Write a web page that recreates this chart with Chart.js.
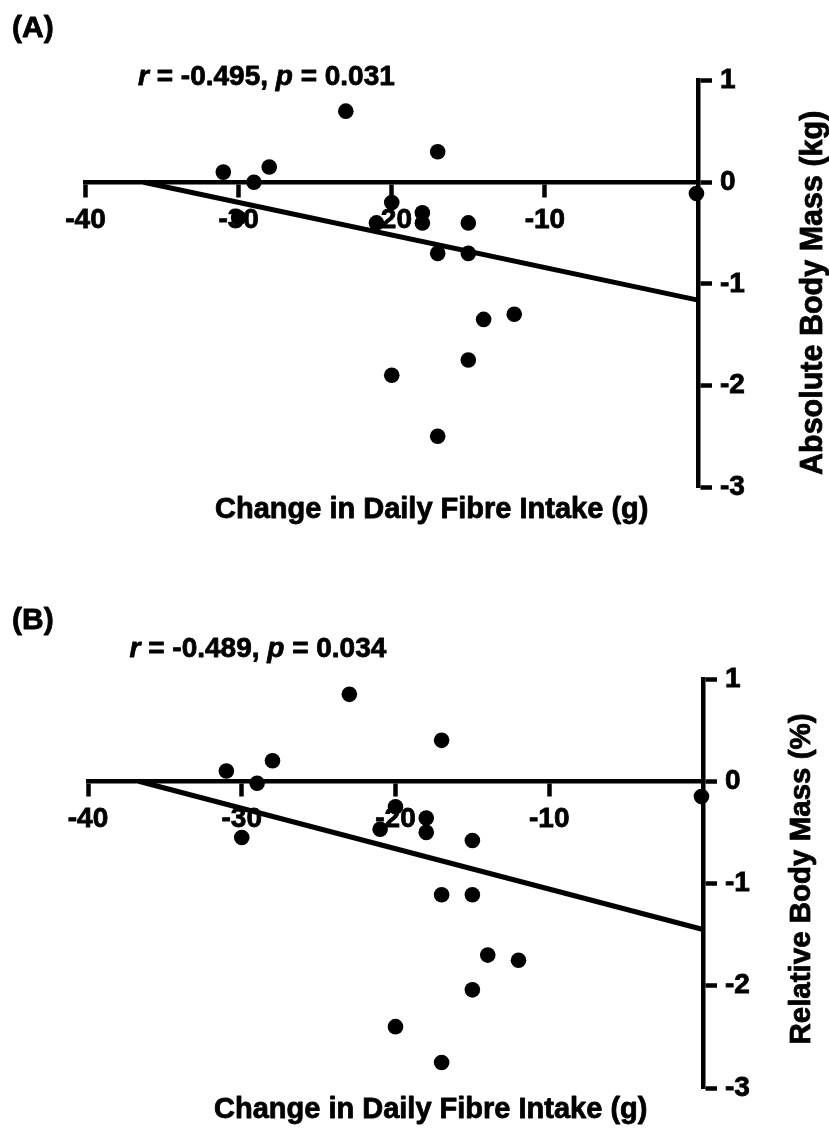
<!DOCTYPE html>
<html>
<head>
<meta charset="utf-8">
<script src="https://cdn.jsdelivr.net/npm/chart.js@4.4.1/dist/chart.umd.min.js"></script>
<style>
  html, body { margin: 0; padding: 0; background: #ffffff; }
  .panel { position: relative; width: 829px; height: 564px; }
  canvas { display: block; }
</style>
</head>
<body>
<div class="panel"><canvas id="chartA" width="829" height="564"></canvas></div>
<div class="panel"><canvas id="chartB" width="829" height="564"></canvas></div>
<script>
// ---- Tick values / labels ----
const xTickValues = [-40, -30, -20, -10];
const xTickLabels = ['-40', '-30', '-20', '-10'];
const yTickValues = [1, 0, -1, -2, -3];
const yTickLabels = ['1', '0', '-1', '-2', '-3'];

// ---- Panel A: change in fibre (g) vs absolute body mass change (kg) ----
const fibreChangeA = [-31, -29, -28, -23, -17, -0.1, -20, -30, -21, -18, -18, -15, -17, -15, -14, -12, -15, -20, -17];
const absMassChange = [0.1, 0.0, 0.15, 0.7, 0.3, -0.11, -0.2, -0.35, -0.4, -0.3, -0.4, -0.4, -0.7, -0.7, -1.35, -1.3, -1.75, -1.9, -2.5];
const fitXA = [-36.2, 0];
const fitYA = [0, -1.16];

// ---- Panel B: change in fibre (g) vs relative body mass change (%) ----
const fibreChangeB = [-31, -29, -28, -23, -17, -0.1, -20, -30, -21, -18, -18, -15, -17, -15, -14, -12, -15, -20, -17];
const relMassChange = [0.1, -0.02, 0.2, 0.85, 0.4, -0.15, -0.25, -0.55, -0.47, -0.36, -0.5, -0.58, -1.11, -1.11, -1.7, -1.75, -2.04, -2.4, -2.75];
const fitXB = [-36.7, 0];
const fitYB = [0, -1.45];

// ---- Text ----
const xTitle = 'Change in Daily Fibre Intake (g)';
const yTitleA = 'Absolute Body Mass (kg)';
const yTitleB = 'Relative Body Mass (%)';
const statsA = [['r', true], [' = -0.495, ', false], ['p', true], [' = 0.031', false]];
const statsB = [['r', true], [' = -0.489, ', false], ['p', true], [' = 0.034', false]];

const FONT = '"Liberation Sans", Arial, Helvetica, sans-serif';
const STROKE = 0.8;

function heavyText(ctx, txt, x, y) {
  ctx.fillText(txt, x, y);
  ctx.strokeText(txt, x, y);
}

function textPlugin(cfg) {
  return {
    id: 'panelText',
    afterDraw(chart) {
      const ctx = chart.ctx;
      const a = chart.chartArea;
      ctx.save();
      ctx.fillStyle = '#000';
      ctx.strokeStyle = '#000';
      ctx.lineWidth = STROKE;
      ctx.lineJoin = 'round';
      ctx.textAlign = 'left';
      ctx.textBaseline = 'alphabetic';
      // panel letter
      ctx.font = 'bold 30px ' + FONT;
      heavyText(ctx, cfg.letter, 12, cfg.letterY);
      // statistics
      let x = a.left + cfg.statDX;
      for (const [txt, italic] of cfg.stats) {
        ctx.font = (italic ? 'italic ' : '') + 'bold 28px ' + FONT;
        heavyText(ctx, txt, x, cfg.statY);
        x += ctx.measureText(txt).width;
      }
      // x title
      ctx.font = 'bold 29px ' + FONT;
      heavyText(ctx, xTitle, a.left + cfg.xTitleDX, a.bottom + cfg.xTitleDY);
      // y title (rotated, reading bottom to top)
      ctx.translate(a.right + cfg.yTitleDX, (a.top + a.bottom) / 2 + cfg.yTitleDY);
      ctx.rotate(-Math.PI / 2);
      ctx.textAlign = 'center';
      ctx.font = 'bold ' + cfg.yTitleSize + 'px ' + FONT;
      heavyText(ctx, cfg.yTitle, 0, 0);
      ctx.restore();
    }
  };
}

function makeChart(id, xs, ys, fx, fy, pad, yAxisWidth, text) {
  const points = xs.map((x, i) => ({ x: x, y: ys[i] }));
  const fit = fx.map((x, i) => ({ x: x, y: fy[i] }));
  const tickFont = { family: FONT, size: 28, weight: 'bold' };
  return new Chart(document.getElementById(id), {
    type: 'scatter',
    data: {
      datasets: [
        { data: points, backgroundColor: '#000', borderColor: '#000', borderWidth: 0,
          pointRadius: 7.8, pointHoverRadius: 7.8, clip: false, order: 1 },
        { type: 'line', data: fit, borderColor: '#000', backgroundColor: '#000', borderWidth: 5,
          pointRadius: 0, fill: false, showLine: true, clip: false, order: 2 }
      ]
    },
    options: {
      responsive: false,
      animation: false,
      events: [],
      layout: { padding: pad },
      plugins: { legend: { display: false }, tooltip: { enabled: false } },
      scales: {
        x: {
          type: 'linear', min: -40, max: 0, position: { y: 0 },
          afterBuildTicks: s => { s.ticks = xTickValues.map(v => ({ value: v })); },
          ticks: { callback: (v, i) => xTickLabels[i], font: tickFont, color: '#000',
                   textStrokeColor: '#000', textStrokeWidth: STROKE,
                   padding: 8, maxRotation: 0, autoSkip: false },
          grid: { drawOnChartArea: false, drawTicks: true, tickLength: 13, tickWidth: 4.5, tickColor: '#000' },
          border: { display: true, width: 4.5, color: '#000' },
          title: { display: false }
        },
        y: {
          type: 'linear', min: -3, max: 1, position: 'right',
          afterBuildTicks: s => { s.ticks = yTickValues.map(v => ({ value: v })); },
          afterFit: s => { s.width = yAxisWidth; },
          ticks: { callback: (v, i) => yTickLabels[i], font: tickFont, color: '#000',
                   textStrokeColor: '#000', textStrokeWidth: STROKE,
                   padding: 8, autoSkip: false },
          grid: { drawOnChartArea: false, drawTicks: true, tickLength: 14, tickWidth: 4.5, tickColor: '#000' },
          border: { display: true, width: 4.5, color: '#000' },
          title: { display: false }
        }
      }
    },
    plugins: [textPlugin(text)]
  });
}

makeChart('chartA', fibreChangeA, absMassChange, fitXA, fitYA,
  { left: 85.5, top: 80.7, right: 0, bottom: 77 }, 131,
  { letter: '(A)', letterY: 37, stats: statsA, statDX: 52.5, statY: 85,
    xTitleDX: 129.5, xTitleDY: 31, yTitle: yTitleA, yTitleSize: 30.5, yTitleDX: 124, yTitleDY: 9 });

makeChart('chartB', fibreChangeB, relMassChange, fitXB, fitYB,
  { left: 88, top: 115, right: 0, bottom: 40 }, 126,
  { letter: '(B)', letterY: 65.3, stats: statsB, statDX: 41.5, statY: 93.3,
    xTitleDX: 126, xTitleDY: 30, yTitle: yTitleB, yTitleSize: 29.5, yTitleDX: 107, yTitleDY: -4.5 });
</script>
</body>
</html>
